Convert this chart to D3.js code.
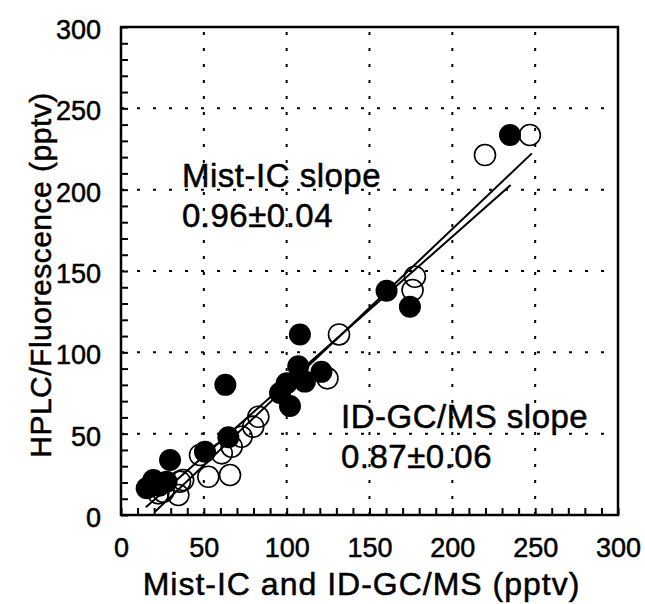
<!DOCTYPE html>
<html>
<head>
<meta charset="utf-8">
<script src="https://cdn.jsdelivr.net/npm/d3@7"></script>
<style>
    body { margin: 0; background: #fff; }
    svg { display: block; }
    text { font-family: "Liberation Sans", Arial, Helvetica, sans-serif; fill: #000; stroke: #000; stroke-width: 0.5px; }
</style>
</head>
<body>
<svg id="chart" width="645" height="604"></svg>
<script>
// Mist-IC (filled) and ID-GC/MS (open) vs HPLC/Fluorescence, pptv
const mistX = [15.5, 19.5, 23, 27.5, 29.6, 50.7, 64.8, 63, 96, 100, 102, 107, 111, 108, 121, 160.3, 174.4, 234.8];
const mistY = [16.4, 21.5, 18, 20.5, 33.8, 38.9, 47.8, 80, 75, 81, 67, 91.5, 82, 111, 88, 137.9, 128, 233.6];

const gcmsX = [22.5, 25.5, 34.6, 35.6, 37.5, 47.7, 52.7, 60.8, 65.8, 66.8, 72.8, 79.8, 82.9, 124.6, 131.6, 176, 177.4, 219.7, 246.8];
const gcmsY = [13.3, 14.3, 12.3, 20.5, 21.5, 36.9, 23.5, 37.9, 24.6, 42, 48.1, 54.3, 60.4, 84, 111, 138.3, 146.5, 221.3, 233.6];

// fitted lines, end points
const mistFitX = [20.5, 248];
const mistFitY = [2, 222.3];
const gcmsFitX = [15, 235.2];
const gcmsFitY = [4.8, 202.8];

const majorTicks = [0, 50, 100, 150, 200, 250, 300];

const width = 645;
const height = 604;
const margin = ({ top: 27, right: 27, bottom: 89, left: 121 });

const svg = d3.select("#chart");

const x = d3.scaleLinear()
    .domain([0, 300])
    .range([margin.left, width - margin.right]);

const y = d3.scaleLinear()
    .domain([0, 300])
    .range([height - margin.bottom, margin.top]);

// grid
const grid = svg.append("g")
    .attr("class", "grid")
    .attr("stroke", "#000")
    .attr("stroke-width", 2)
    .attr("stroke-dasharray", "3,13");

grid.selectAll(".vgrid")
    .data(majorTicks.slice(1, -1))
    .join("line")
    .attr("x1", d => x(d))
    .attr("x2", d => x(d))
    .attr("y1", y(0))
    .attr("y2", y(300));

grid.selectAll(".hgrid")
    .data(majorTicks.slice(1, -1))
    .join("line")
    .attr("y1", d => y(d))
    .attr("y2", d => y(d))
    .attr("x1", x(0))
    .attr("x2", x(300));

// minor inward ticks on left and bottom
svg.append("g")
    .attr("transform", `translate(0,${y(0)})`)
    .call(d3.axisBottom(x).tickValues(d3.range(0, 301, 10)).tickSize(-7).tickFormat(""))
    .call(g => g.select(".domain").remove())
    .call(g => g.selectAll("line").attr("stroke-width", 2));

svg.append("g")
    .attr("transform", `translate(${x(0)},0)`)
    .call(d3.axisLeft(y).tickValues(d3.range(0, 301, 10)).tickSize(-7).tickFormat(""))
    .call(g => g.select(".domain").remove())
    .call(g => g.selectAll("line").attr("stroke-width", 2));

// tick labels
svg.append("g")
    .attr("transform", `translate(0,${y(0)})`)
    .call(d3.axisBottom(x).tickValues(majorTicks).tickSize(0).tickPadding(23))
    .call(g => g.select(".domain").remove())
    .call(g => g.selectAll("text").attr("font-size", 27).attr("font-family", null));

svg.append("g")
    .attr("transform", `translate(${x(0)},0)`)
    .call(d3.axisLeft(y).tickValues(majorTicks).tickSize(0).tickPadding(20))
    .call(g => g.select(".domain").remove())
    .call(g => g.selectAll("text").attr("font-size", 27).attr("font-family", null).attr("dy", "0.42em"));

// frame
svg.append("rect")
    .attr("x", x(0))
    .attr("y", y(300))
    .attr("width", x(300) - x(0))
    .attr("height", y(0) - y(300))
    .attr("fill", "none")
    .attr("stroke", "#000")
    .attr("stroke-width", 2.5);

// fit lines
const line = d3.line()
    .x(d => x(d[0]))
    .y(d => y(d[1]));

svg.append("path")
    .datum(d3.zip(mistFitX, mistFitY))
    .attr("d", line)
    .attr("fill", "none")
    .attr("stroke", "#000")
    .attr("stroke-width", 2);

svg.append("path")
    .datum(d3.zip(gcmsFitX, gcmsFitY))
    .attr("d", line)
    .attr("fill", "none")
    .attr("stroke", "#000")
    .attr("stroke-width", 2);

// open circles (ID-GC/MS)
svg.append("g")
    .selectAll("circle")
    .data(d3.zip(gcmsX, gcmsY))
    .join("circle")
    .attr("cx", d => x(d[0]))
    .attr("cy", d => y(d[1]))
    .attr("r", 10.5)
    .attr("fill", "none")
    .attr("stroke", "#000")
    .attr("stroke-width", 1.6);

// filled circles (Mist-IC)
svg.append("g")
    .selectAll("circle")
    .data(d3.zip(mistX, mistY))
    .join("circle")
    .attr("cx", d => x(d[0]))
    .attr("cy", d => y(d[1]))
    .attr("r", 11)
    .attr("fill", "#000");

// annotations
const note = (tx, ty, str) => svg.append("text")
    .attr("x", tx)
    .attr("y", ty)
    .attr("font-size", 33)
    .attr("letter-spacing", 0.5)
    .text(str);

note(182, 187, "Mist-IC slope");
note(182, 227, "0.96\u00b10.04");
note(341, 428, "ID-GC/MS slope");
note(341, 468, "0.87\u00b10.06");

// axis titles
svg.append("text")
    .attr("x", (x(0) + x(300)) / 2 - 8)
    .attr("y", 595)
    .attr("text-anchor", "middle")
    .attr("font-size", 32)
    .attr("letter-spacing", 1)
    .text("Mist-IC and ID-GC/MS (pptv)");

svg.append("text")
    .attr("transform", `translate(51,${(y(0) + y(300)) / 2 + 4}) rotate(-90)`)
    .attr("text-anchor", "middle")
    .attr("font-size", 30)
    .attr("letter-spacing", 0.5)
    .text("HPLC/Fluorescence (pptv)");
</script>
</body>
</html>
